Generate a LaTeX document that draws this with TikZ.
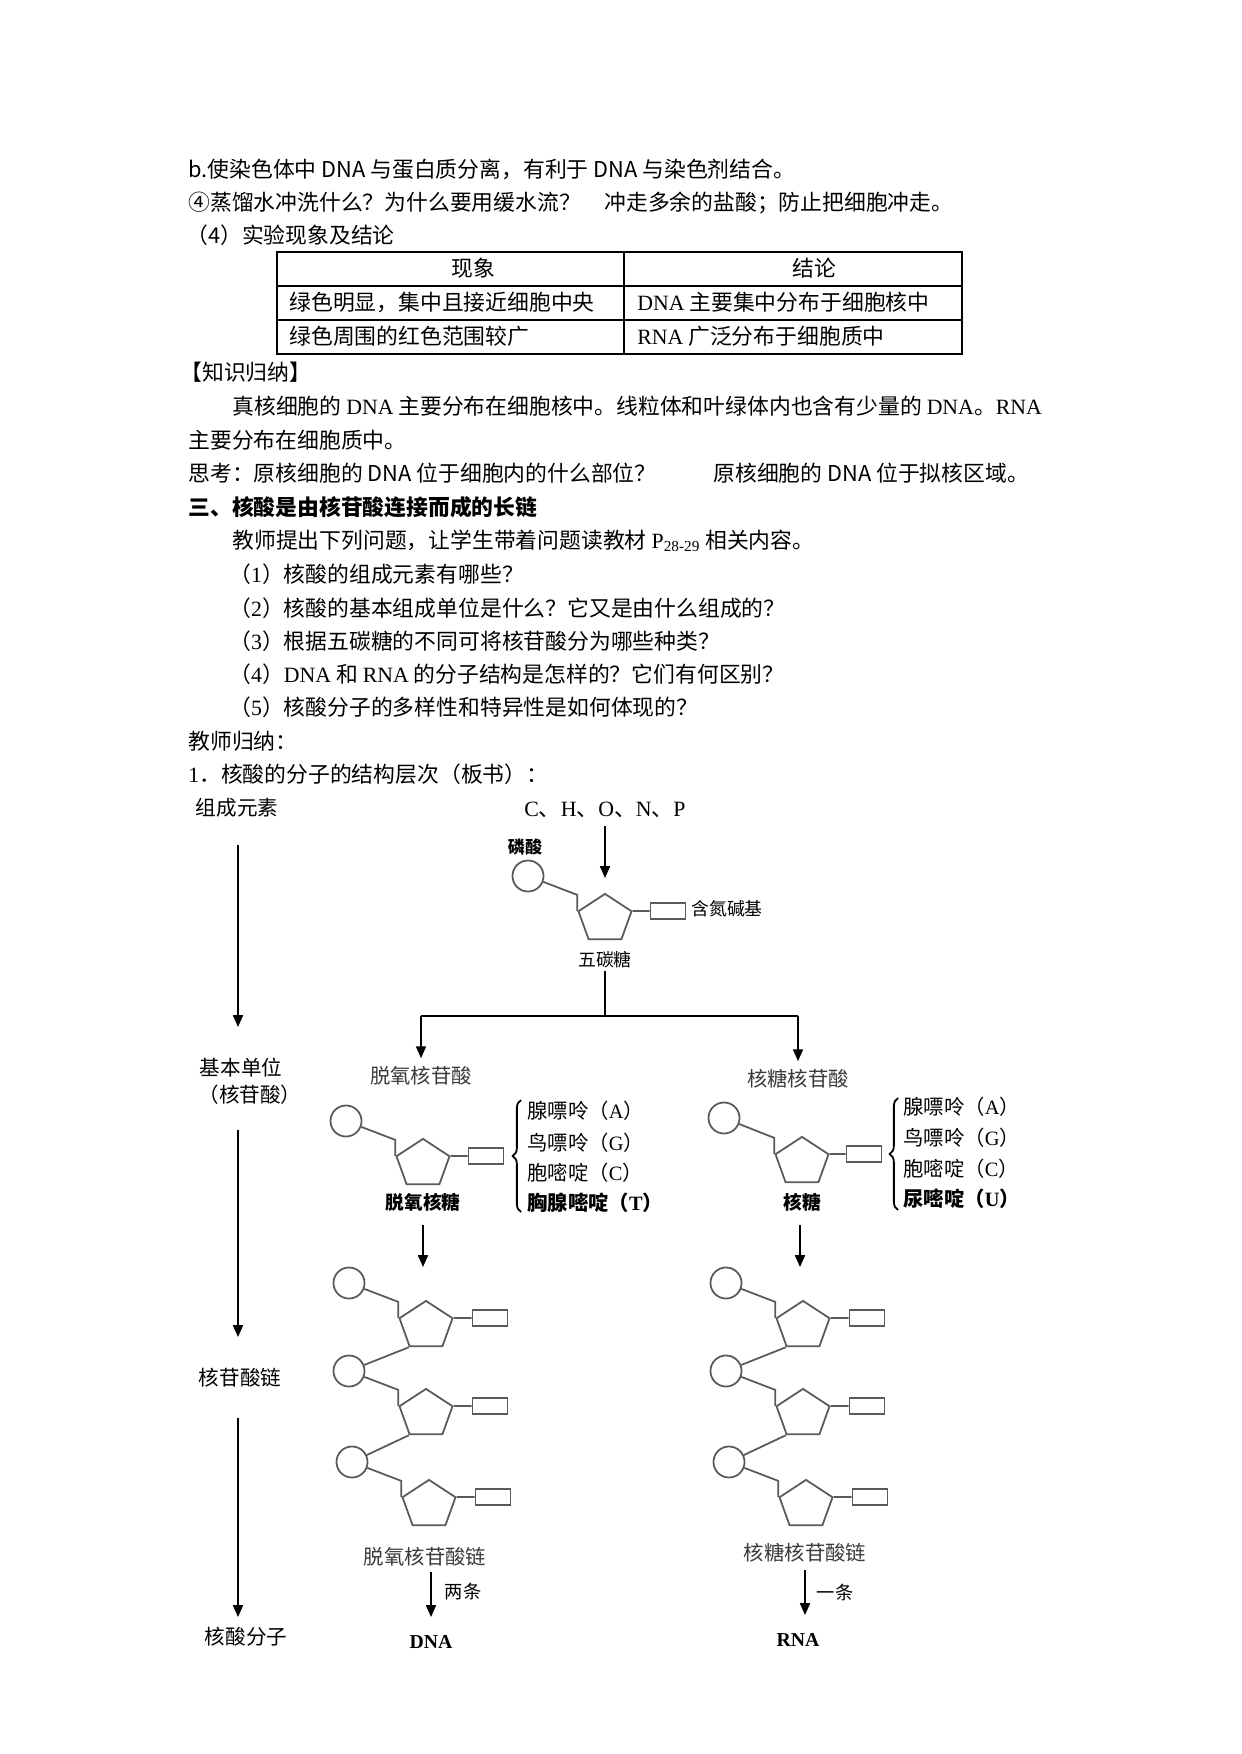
\documentclass[tikz,border=0pt]{standalone}
\usepackage{fontspec}
\setmainfont{Noto Sans CJK SC}
\newfontfamily\tmfont{Liberation Serif}
\usetikzlibrary{arrows.meta,positioning,shapes.geometric,calc,decorations.pathreplacing}
\definecolor{strk}{HTML}{5A5A5A}
\definecolor{lbl}{HTML}{3A3A3A}
\newcommand{\tm}[1]{{\tmfont #1}}

\begin{document}
\begin{tikzpicture}[
  x=0.16922mm, y=-0.16922mm,
  font=\fontsize{10.5}{12}\selectfont,
  ln/.style={anchor=base west, inner sep=0pt},
  cell/.style={anchor=base, inner sep=0pt},
  lvl/.style={inner sep=1pt, font=\fontsize{9.9}{12}\selectfont},
  kind/.style={inner sep=1pt, font=\fontsize{9.8}{12}\selectfont, text=lbl},
  tag/.style={inner sep=1pt, font=\fontsize{8.6}{10}\selectfont},
  bname/.style={anchor=base west, inner sep=0pt, font=\fontsize{9.8}{12}\selectfont},
  phos/.style={draw=strk, circle, line width=0.3mm, minimum size=5.25mm, inner sep=0pt},
  sugar/.style={draw=strk, regular polygon, regular polygon sides=5, line width=0.3mm,
    minimum size=8.5mm, inner sep=0pt, xscale=1.11, transform shape},
  nbase/.style={draw=strk, rectangle, line width=0.3mm, minimum width=5.9mm,
    minimum height=2.6mm, inner sep=0pt},
  bond/.style={draw=strk, line width=0.3mm},
  arr/.style={-{Triangle[length=2mm,width=1.7mm]}, line width=0.25mm},
  brc/.style={decorate, decoration={brace, amplitude=1.4mm}, line width=0.3mm}
]
\useasboundingbox (0,0) rectangle (1241,1754);

\node[ln] (t1) at (188,178) {b.使染色体中 DNA 与蛋白质分离，有利于 DNA 与染色剂结合。};
\node[ln] (t2) at (188,211) {④蒸馏水冲洗什么？为什么要用缓水流？};
\node[ln] (t2a) at (604,211) {冲走多余的盐酸；防止把细胞冲走。};
\node[ln] (t3) at (186,244) {（4）实验现象及结论};

\draw[line width=0.6pt] (277,252) rectangle (962,354);
\draw[line width=0.6pt] (277,286) -- (962,286) (277,320) -- (962,320) (624,252) -- (624,354);
\node[cell] (c11) at (473,277) {现象};
\node[cell] (c12) at (814,277) {结论};
\node[ln] (c21) at (289,311) {绿色明显，集中且接近细胞中央};
\node[ln] (c22) at (637,311) {\tm{DNA} 主要集中分布于细胞核中};
\node[ln] (c31) at (289,345) {绿色周围的红色范围较广};
\node[ln] (c32) at (637,345) {\tm{RNA} 广泛分布于细胞质中};

\node[ln] (t4) at (180,381) {【知识归纳】};
\node[ln] (t5) at (232,415) {真核细胞的 \tm{DNA} 主要分布在细胞核中。线粒体和叶绿体内也含有少量的 \tm{DNA}。\tm{RNA}};
\node[ln] (t6) at (188,449) {主要分布在细胞质中。};
\node[ln] (t7) at (188,482) {思考：原核细胞的 DNA 位于细胞内的什么部位？};
\node[ln] (t7a) at (713,482) {原核细胞的 DNA 位于拟核区域。};
\node[ln, font=\fontsize{10.5}{12}\selectfont\bfseries] (t8) at (188,515) {三、核酸是由核苷酸连接而成的长链};
\node[ln] (t9) at (232,548) {教师提出下列问题，让学生带着问题读教材 \tm{P\textsubscript{28-29}} 相关内容。};
\node[ln] (q1) at (229,582) {（\tm{1}）核酸的组成元素有哪些？};
\node[ln] (q2) at (229,616) {（\tm{2}）核酸的基本组成单位是什么？它又是由什么组成的？};
\node[ln] (q3) at (229,649) {（\tm{3}）根据五碳糖的不同可将核苷酸分为哪些种类？};
\node[ln] (q4) at (229,682) {（\tm{4}）\tm{DNA} 和 \tm{RNA} 的分子结构是怎样的？它们有何区别？};
\node[ln] (q5) at (229,715) {（\tm{5}）核酸分子的多样性和特异性是如何体现的？};
\node[ln] (t10) at (188,749) {教师归纳：};
\node[ln] (t11) at (188,782) {\tm{1}．核酸的分子的结构层次（板书）：};

\node[lvl] (zcys) at (237,808) {组成元素};
\node[lvl] (jbdw) at (241,1068) {基本单位};
\node[lvl] (hgs) at (250,1095) {（核苷酸）};
\node[lvl] (hgsl) at (240,1378) {核苷酸链};
\node[lvl] (hsfz) at (246,1637) {核酸分子};
\coordinate (a1s) at (238,845); \coordinate (a1e) at (238,1027);
\coordinate (a2s) at (238,1130); \coordinate (a2e) at (238,1337);
\coordinate (a3s) at (238,1418); \coordinate (a3e) at (238,1617);
\draw[arr] (a1s) -- (a1e);
\draw[arr] (a2s) -- (a2e);
\draw[arr] (a3s) -- (a3e);

\node[inner sep=1pt, font=\fontsize{10.5}{12}\selectfont] (chonp) at (605,810)
  {\tm{C}、\tm{H}、\tm{O}、\tm{N}、\tm{P}};
\node[phos] (p0) at (528,876) {};
\node[sugar] (s0) at (605,919) {};
\node[nbase] (b0) at (668,911) {};
\node[tag, font=\fontsize{8.2}{10}\selectfont\bfseries] (lsuan) at (525,847) {磷酸};
\node[tag] (hdjj) at (727,909) {含氮碱基};
\node[tag] (wtt) at (605,960) {五碳糖};
\draw[arr, shorten <=1mm, shorten >=2.5mm] (chonp) -- (s0.corner 1);
\draw[bond] (p0) -- ($(s0.corner 2)+(0,-16)$) -- (s0.corner 2);
\draw[bond] (s0.corner 5) -- (b0);

\coordinate (busM) at (605,1016);
\coordinate (busL) at (421,1016);
\coordinate (busR) at (798,1016);
\draw[line width=0.25mm] (wtt) -- (busM);
\draw[line width=0.25mm] (busL) -- (busR);
\node[kind] (dxhgs) at (421,1076) {脱氧核苷酸};
\node[kind] (thhgs) at (798,1079) {核糖核苷酸};
\draw[arr, shorten >=1mm] (busL) -- (dxhgs);
\draw[arr, shorten >=1mm] (busR) -- (thhgs);

\node[phos] (p1) at (346,1121) {};
\node[sugar] (s1) at (423,1164) {};
\node[nbase] (b1) at (486,1156) {};
\node[tag, font=\fontsize{9}{10}\selectfont\bfseries] (dxtt) at (423,1202) {脱氧核糖};
\draw[bond] (p1) -- ($(s1.corner 2)+(0,-16)$) -- (s1.corner 2);
\draw[bond] (s1.corner 5) -- (b1);
\coordinate (brL1) at (521,1212); \coordinate (brL2) at (521,1100);
\draw[brc] (brL1) -- (brL2);
\node[bname] (nA1) at (527,1118) {腺嘌呤（\tm{A}）};
\node[bname] (nG1) at (527,1150) {鸟嘌呤（\tm{G}）};
\node[bname] (nC1) at (527,1180) {胞嘧啶（\tm{C}）};
\node[bname, font=\fontsize{9.8}{12}\selectfont\bfseries] (nT1) at (527,1210) {胸腺嘧啶（\tm{T}）};

\node[phos] (p2) at (724,1118) {};
\node[sugar] (s2) at (802,1162) {};
\node[nbase] (b2) at (864,1154) {};
\node[tag, font=\fontsize{9}{10}\selectfont\bfseries] (htt) at (802,1202) {核糖};
\draw[bond] (p2) -- ($(s2.corner 2)+(0,-16)$) -- (s2.corner 2);
\draw[bond] (s2.corner 5) -- (b2);
\coordinate (brR1) at (898,1210); \coordinate (brR2) at (898,1098);
\draw[brc] (brR1) -- (brR2);
\node[bname] (nA2) at (903,1114) {腺嘌呤（\tm{A}）};
\node[bname] (nG2) at (903,1145) {鸟嘌呤（\tm{G}）};
\node[bname] (nC2) at (903,1176) {胞嘧啶（\tm{C}）};
\node[bname, font=\fontsize{9.8}{12}\selectfont\bfseries] (nU2) at (903,1206) {尿嘧啶（\tm{U}）};

\coordinate (d1s) at (423,1225); \coordinate (d1e) at (423,1267);
\coordinate (d2s) at (800,1225); \coordinate (d2e) at (800,1267);
\draw[arr] (d1s) -- (d1e);
\draw[arr] (d2s) -- (d2e);

\node[phos] (p3) at (349,1283) {};
\node[sugar] (s3) at (426,1326) {};
\node[nbase] (b3) at (490,1318) {};
\node[phos] (p4) at (349,1371) {};
\node[sugar] (s4) at (426,1414) {};
\node[nbase] (b4) at (490,1406) {};
\node[phos] (p5) at (352,1462) {};
\node[sugar] (s5) at (429,1505) {};
\node[nbase] (b5) at (493,1497) {};
\draw[bond] (p3) -- ($(s3.corner 2)+(0,-16)$) -- (s3.corner 2);
\draw[bond] (p4) -- ($(s4.corner 2)+(0,-16)$) -- (s4.corner 2);
\draw[bond] (p5) -- ($(s5.corner 2)+(0,-16)$) -- (s5.corner 2);
\draw[bond] (s3.corner 5) -- (b3); \draw[bond] (s4.corner 5) -- (b4);
\draw[bond] (s5.corner 5) -- (b5);
\draw[bond] (s3.corner 3) -- (p4); \draw[bond] (s4.corner 3) -- (p5);

\node[phos] (p6) at (726,1283) {};
\node[sugar] (s6) at (803,1326) {};
\node[nbase] (b6) at (867,1318) {};
\node[phos] (p7) at (726,1371) {};
\node[sugar] (s7) at (803,1414) {};
\node[nbase] (b7) at (867,1406) {};
\node[phos] (p8) at (729,1462) {};
\node[sugar] (s8) at (806,1505) {};
\node[nbase] (b8) at (870,1497) {};
\draw[bond] (p6) -- ($(s6.corner 2)+(0,-16)$) -- (s6.corner 2);
\draw[bond] (p7) -- ($(s7.corner 2)+(0,-16)$) -- (s7.corner 2);
\draw[bond] (p8) -- ($(s8.corner 2)+(0,-16)$) -- (s8.corner 2);
\draw[bond] (s6.corner 5) -- (b6); \draw[bond] (s7.corner 5) -- (b7);
\draw[bond] (s8.corner 5) -- (b8);
\draw[bond] (s6.corner 3) -- (p7); \draw[bond] (s7.corner 3) -- (p8);

\node[kind] (dxl) at (425,1557) {脱氧核苷酸链};
\node[kind] (thl) at (805,1553) {核糖核苷酸链};
\coordinate (e1s) at (431,1572); \coordinate (e1e) at (431,1617);
\coordinate (e2s) at (805,1570); \coordinate (e2e) at (805,1615);
\draw[arr] (e1s) -- (e1e);
\draw[arr] (e2s) -- (e2e);
\node[tag, font=\fontsize{8.8}{10}\selectfont] (liang) at (463,1592) {两条};
\node[tag, font=\fontsize{8.8}{10}\selectfont] (yi) at (835,1592) {一条};
\node[inner sep=1pt, font=\fontsize{9.5}{11}\selectfont\tmfont\bfseries] (dna) at (431,1642) {DNA};
\node[inner sep=1pt, font=\fontsize{9.5}{11}\selectfont\tmfont\bfseries] (rna) at (798,1640) {RNA};
\end{tikzpicture}
\end{document}
